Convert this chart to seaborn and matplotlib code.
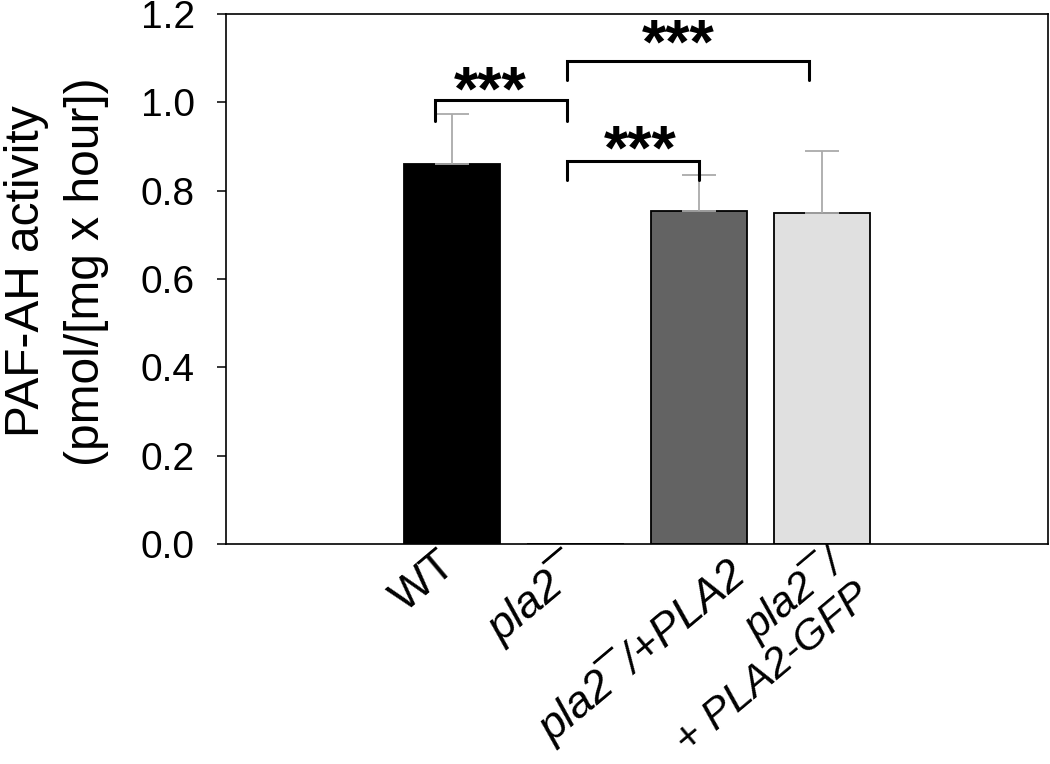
import matplotlib
matplotlib.use("Agg")
import matplotlib.pyplot as plt
import seaborn as sns
import numpy as np
import pandas as pd
from matplotlib.transforms import ScaledTranslation

# ---- data ----
groups = ["WT", "pla2\u00af", "pla2\u00af/+PLA2", "pla2\u00af/\n+ PLA2-GFP"]
activity = [0.861, 0.0, 0.753, 0.749]
error_up = [0.113, 0.0, 0.082, 0.141]
bar_colors = ["#000000", "#ffffff", "#636363", "#e0e0e0"]
label_italic = [False, True, True, True]

# significance brackets (category units / activity units)
br_left = [-0.14, 0.93, 0.93]
br_right = [0.93, 2.89, 2.00]
br_top = [1.005, 1.094, 0.868]
br_bottom = [0.958, 1.051, 0.823]
br_text_x = [0.31, 1.83, 1.525]
br_text_y = [0.983, 1.091, 0.850]
br_text = ["***", "***", "***"]

yticks = [0.0, 0.2, 0.4, 0.6, 0.8, 1.0, 1.2]
ylabel = "PAF-AH activity\n(pmol/[mg x hour])"

# per-label nudges of the tick-label anchor (pixels at 100 dpi) and sizes
label_offsets = [(-15, 0), (-14, -3), (26, -8), (2, 2)]
label_sizes = [32, 32, 32, 30.5]

# ---- style ----
sns.set_theme(style="white")
plt.rcParams["font.family"] = ["Liberation Sans", "DejaVu Sans"]

fig = plt.figure(figsize=(10.5, 7.64), dpi=100)
ax = fig.add_axes([0.2152, 0.288, 0.7826, 0.6937])

df = pd.DataFrame({"group": groups, "activity": activity})
sns.barplot(data=df, x="group", y="activity", hue="group", palette=bar_colors,
            legend=False, width=0.78, edgecolor="black", linewidth=1.3,
            errorbar=None, ax=ax, saturation=1)

x = np.arange(len(groups))
act = np.array(activity)
err = np.array(error_up)
m = err > 0
ax.errorbar(x[m], act[m], yerr=[np.zeros(m.sum()), err[m]], fmt="none",
            ecolor="#aaaaaa", elinewidth=1.3, capsize=12, capthick=1.3, zorder=3)

for l, r, t, b, tx, ty, s in zip(br_left, br_right, br_top, br_bottom,
                                  br_text_x, br_text_y, br_text):
    ax.plot([l, l, r, r], [b, t, t, b], color="black", lw=2.2, zorder=4,
            solid_joinstyle="miter")
    ax.text(tx, ty, s, ha="center", va="baseline", fontsize=45,
            fontweight="bold", color="black", zorder=5)

ax.set_xlim(-1.833, 4.826)
ax.set_ylim(0, 1.2)
ax.set_yticks(yticks)
ax.set_yticklabels([f"{v:.1f}" for v in yticks])
ax.tick_params(axis="y", direction="out", length=6.5, width=1.1, pad=16,
               labelsize=28, left=True, color="black", labelcolor="black")
ax.tick_params(axis="x", length=0, pad=0)
ax.set_xlabel("")
ax.set_ylabel(ylabel, fontsize=34.5, color="black", linespacing=1.45)
ax.yaxis.set_label_coords(-0.142, 0.514)

ax.set_xticks(x)
ax.set_xticklabels(groups, rotation=40, ha="right", va="top",
                   rotation_mode="anchor", fontsize=32, color="black",
                   linespacing=1.05)
for lab, it, (dx, dy), fs in zip(ax.get_xticklabels(), label_italic,
                                 label_offsets, label_sizes):
    if it:
        lab.set_fontstyle("italic")
    lab.set_fontsize(fs)
    lab.set_transform(lab.get_transform() +
                      ScaledTranslation(dx / 100, dy / 100, fig.dpi_scale_trans))

for sp in ax.spines.values():
    sp.set_visible(True)
    sp.set_color("black")
    sp.set_linewidth(1.2)

fig.savefig("out.png", dpi=100)
